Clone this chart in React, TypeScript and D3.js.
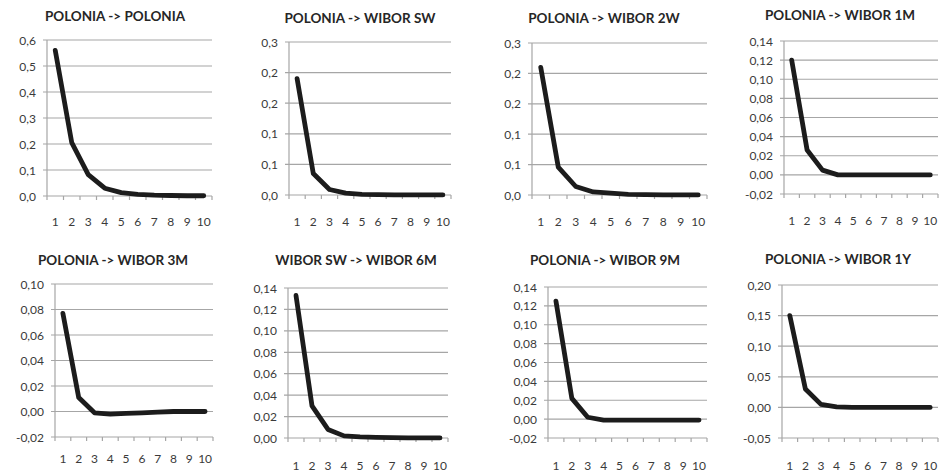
import React from "react";
import * as d3 from "d3";

const lags = [1, 2, 3, 4, 5, 6, 7, 8, 9, 10];

const titles = [
  "POLONIA -> POLONIA",
  "POLONIA -> WIBOR SW",
  "POLONIA -> WIBOR 2W",
  "POLONIA -> WIBOR 1M",
  "POLONIA -> WIBOR 3M",
  "WIBOR SW -> WIBOR 6M",
  "POLONIA -> WIBOR 9M",
  "POLONIA -> WIBOR 1Y",
];

const s1 = [0.56, 0.205, 0.082, 0.03, 0.013, 0.006, 0.003, 0.002, 0.001, 0.001];
const s2 = [0.19, 0.035, 0.009, 0.003, 0.001, 0.0005, 0.0002, 0.0001, 0.0001, 0.0001];
const s3 = [0.21, 0.046, 0.014, 0.005, 0.003, 0.001, 0.0005, 0.0002, 0.0001, 0.0001];
const s4 = [0.12, 0.026, 0.005, 0.0, 0.0, 0.0, 0.0, 0.0, 0.0, 0.0];
const s5 = [0.077, 0.011, -0.001, -0.002, -0.0015, -0.001, -0.0005, 0.0, 0.0, 0.0];
const s6 = [0.133, 0.03, 0.008, 0.002, 0.001, 0.0005, 0.0003, 0.0002, 0.0001, 0.0001];
const s7 = [0.125, 0.022, 0.002, -0.001, -0.001, -0.001, -0.001, -0.001, -0.001, -0.001];
const s8 = [0.15, 0.03, 0.005, 0.001, 0.0, 0.0, 0.0, 0.0, 0.0, 0.0];

const ticks1 = [0, 0.1, 0.2, 0.3, 0.4, 0.5, 0.6];
const labels1 = ["0,0", "0,1", "0,2", "0,3", "0,4", "0,5", "0,6"];
const ticks2 = [0, 0.05, 0.1, 0.15, 0.2, 0.25];
const labels2 = ["0,0", "0,1", "0,1", "0,2", "0,2", "0,3"];
const ticks4 = [-0.02, 0, 0.02, 0.04, 0.06, 0.08, 0.1, 0.12, 0.14];
const labels4 = ["-0,02", "0,00", "0,02", "0,04", "0,06", "0,08", "0,10", "0,12", "0,14"];
const ticks5 = [-0.02, 0, 0.02, 0.04, 0.06, 0.08, 0.1];
const labels5 = ["-0,02", "0,00", "0,02", "0,04", "0,06", "0,08", "0,10"];
const ticks6 = [0, 0.02, 0.04, 0.06, 0.08, 0.1, 0.12, 0.14];
const labels6 = ["0,00", "0,02", "0,04", "0,06", "0,08", "0,10", "0,12", "0,14"];
const ticks8 = [-0.05, 0, 0.05, 0.1, 0.15, 0.2];
const labels8 = ["-0,05", "0,00", "0,05", "0,10", "0,15", "0,20"];

const seriesList = [s1, s2, s3, s4, s5, s6, s7, s8];
const tickList = [ticks1, ticks2, ticks2, ticks4, ticks5, ticks6, ticks4, ticks8];
const labelList = [labels1, labels2, labels2, labels4, labels5, labels6, labels4, labels8];

// layout: plot box and title placement per panel
const layouts = [
  { left: 47, right: 212, top: 40, bottom: 196, tx: 115, ty: 21, ly: 226 },
  { left: 289, right: 451, top: 42, bottom: 195, tx: 360, ty: 23, ly: 226 },
  { left: 532, right: 707, top: 43, bottom: 195, tx: 604, ty: 23, ly: 226 },
  { left: 784, right: 938, top: 41, bottom: 194, tx: 840, ty: 20, ly: 225 },
  { left: 55, right: 213, top: 284, bottom: 437, tx: 113, ty: 265, ly: 463 },
  { left: 288, right: 448, top: 288, bottom: 438, tx: 356, ty: 265, ly: 470 },
  { left: 548, right: 707, top: 287, bottom: 438, tx: 605, ty: 265, ly: 470 },
  { left: 782, right: 938, top: 285, bottom: 438, tx: 838, ty: 264, ly: 470 },
];

const FONT = "Lato, 'Open Sans', 'DejaVu Sans', sans-serif";
const GRID = "#a6a6a6";
const TEXT = "#3a3a3a";

function Panel({ i }: { i: number }) {
  const L = layouts[i];
  const data = seriesList[i];
  const ticks = tickList[i];
  const labels = labelList[i];
  const x = d3.scaleBand<number>().domain(lags).range([L.left, L.right]).paddingInner(0).paddingOuter(0);
  const y = d3
    .scaleLinear()
    .domain([ticks[0], ticks[ticks.length - 1]])
    .range([L.bottom, L.top]);
  const line = d3
    .line<number>()
    .x((_, k) => (x(lags[k]) as number) + x.bandwidth() / 2)
    .y((d) => y(d))
    .curve(d3.curveLinear);
  const boundaries = [...lags.map((l) => x(l) as number), L.right];
  return (
    <g>
      <text
        x={L.tx}
        y={L.ty}
        textAnchor="middle"
        fontFamily={FONT}
        fontWeight="bold"
        fontSize={13.5}
        fill="#262626"
      >
        {titles[i]}
      </text>
      {ticks.map((t, k) => (
        <g key={k}>
          <line x1={L.left - 4} x2={L.right} y1={y(t)} y2={y(t)} stroke={GRID} strokeWidth={1.2} />
          <text
            x={L.left - 11}
            y={y(t) + 4.5}
            textAnchor="end"
            fontFamily={FONT}
            fontSize={12}
            fill={TEXT}
          >
            {labels[k]}
          </text>
        </g>
      ))}
      <line x1={L.left} x2={L.left} y1={L.top} y2={L.bottom} stroke={GRID} strokeWidth={1.2} />
      {boundaries.map((b, k) => (
        <line key={k} x1={b} x2={b} y1={L.bottom} y2={L.bottom + 4} stroke={GRID} strokeWidth={1.2} />
      ))}
      {lags.map((l) => (
        <text
          key={l}
          x={(x(l) as number) + x.bandwidth() / 2}
          y={L.ly}
          textAnchor="middle"
          fontFamily={FONT}
          fontSize={12}
          fill={TEXT}
        >
          {l}
        </text>
      ))}
      <path
        d={line(data) || ""}
        fill="none"
        stroke="#1c1c1c"
        strokeWidth={4.8}
        strokeLinejoin="round"
        strokeLinecap="round"
      />
    </g>
  );
}

export default function App() {
  return (
    <svg
      width={943}
      height={472}
      style={{ position: "absolute", left: 0, top: 0, background: "#ffffff" }}
    >
      <rect x={0} y={0} width={943} height={472} fill="#ffffff" />
      {titles.map((_, i) => (
        <Panel key={i} i={i} />
      ))}
    </svg>
  );
}
